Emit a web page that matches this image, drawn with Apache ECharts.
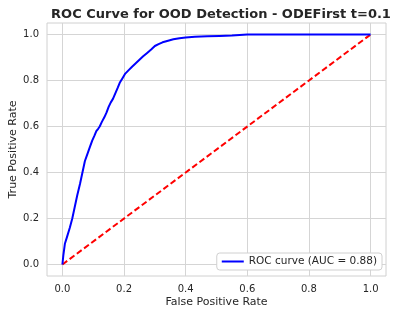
<!DOCTYPE html>
<html><head><meta charset="utf-8">
<script src="https://cdn.jsdelivr.net/npm/echarts@6/dist/echarts.min.js"></script>
<style>html,body{margin:0;padding:0;background:#fff}#c{width:398px;height:317px}</style>
</head><body><div id="c"></div>
<script>
const fpr = [0, 0.003, 0.008, 0.015, 0.024, 0.032, 0.04, 0.048, 0.057, 0.065, 0.073, 0.081, 0.089, 0.097, 0.104, 0.11, 0.116, 0.121, 0.128, 0.136, 0.143, 0.15, 0.157, 0.164, 0.172, 0.18, 0.186, 0.195, 0.204, 0.215, 0.226, 0.238, 0.25, 0.262, 0.275, 0.288, 0.3, 0.312, 0.325, 0.34, 0.36, 0.38, 0.4, 0.43, 0.47, 0.51, 0.55, 0.6, 0.7, 0.8, 0.9, 1.0];
const tpr = [0, 0.04, 0.09, 0.12, 0.16, 0.2, 0.25, 0.3, 0.35, 0.4, 0.45, 0.48, 0.51, 0.54, 0.56, 0.58, 0.59, 0.6, 0.62, 0.64, 0.66, 0.685, 0.705, 0.72, 0.745, 0.77, 0.79, 0.81, 0.83, 0.845, 0.86, 0.875, 0.89, 0.905, 0.92, 0.935, 0.95, 0.958, 0.966, 0.972, 0.979, 0.984, 0.987, 0.99, 0.992, 0.994, 0.996, 1.0, 1.0, 1.0, 1.0, 1.0];
const diagX = [0, 1];
const diagY = [0, 1];
const ticks = [0, 0.2, 0.4, 0.6, 0.8, 1.0];
const rocName = 'ROC curve (AUC = 0.88)';

const font = 'DejaVu Sans';
const txt = '#262626';
const chart = echarts.init(document.getElementById('c'));
function axis(name, gap) {
  return {
    type: 'value', min: -0.05, max: 1.05,
    name: name, nameLocation: 'middle', nameGap: gap, nameMoveOverlap: false,
    nameTextStyle: {fontFamily: font, fontSize: 11, color: txt},
    axisLine: {show: false},
    axisTick: {show: false, customValues: ticks},
    axisLabel: {customValues: ticks, fontFamily: font, fontSize: 10, color: txt, margin: 8,
      formatter: v => v.toFixed(1)},
    splitLine: {show: true, lineStyle: {color: '#d5d5d5', width: 1}}
  };
}
chart.setOption({
  animation: false,
  title: {text: 'ROC Curve for OOD Detection - ODEFirst t=0.1', left: 216, textAlign: 'center', top: 3,
    textStyle: {fontFamily: font, fontSize: 13, fontWeight: 'bold', color: txt}},
  grid: {left: 47, right: 12, top: 23, bottom: 41, show: true, borderColor: '#d0d0d0', borderWidth: 1,
    backgroundColor: '#fff', outerBoundsMode: 'none', containLabel: false},
  xAxis: axis('False Positive Rate', 21),
  yAxis: axis('True Positive Rate', 28),
  legend: {data: [rocName], right: 16, bottom: 47, icon: 'rect', itemWidth: 22, itemHeight: 2, itemGap: 8,
    backgroundColor: '#fff', borderColor: '#d0d0d0', borderWidth: 1, borderRadius: 3, padding: [3, 5],
    textStyle: {fontFamily: font, fontSize: 10.5, color: txt}},
  series: [
    {name: rocName, type: 'line', data: fpr.map((x, i) => [x, tpr[i]]), showSymbol: false, symbol: 'none',
      lineStyle: {color: '#0000ff', width: 2}, itemStyle: {color: '#0000ff'}, z: 3},
    {name: 'diag', type: 'line', data: diagX.map((x, i) => [x, diagY[i]]), showSymbol: false, symbol: 'none',
      lineStyle: {color: '#ff0000', width: 2, type: [6, 3]}, itemStyle: {color: '#ff0000'}, z: 2}
  ]
});
</script></body></html>
